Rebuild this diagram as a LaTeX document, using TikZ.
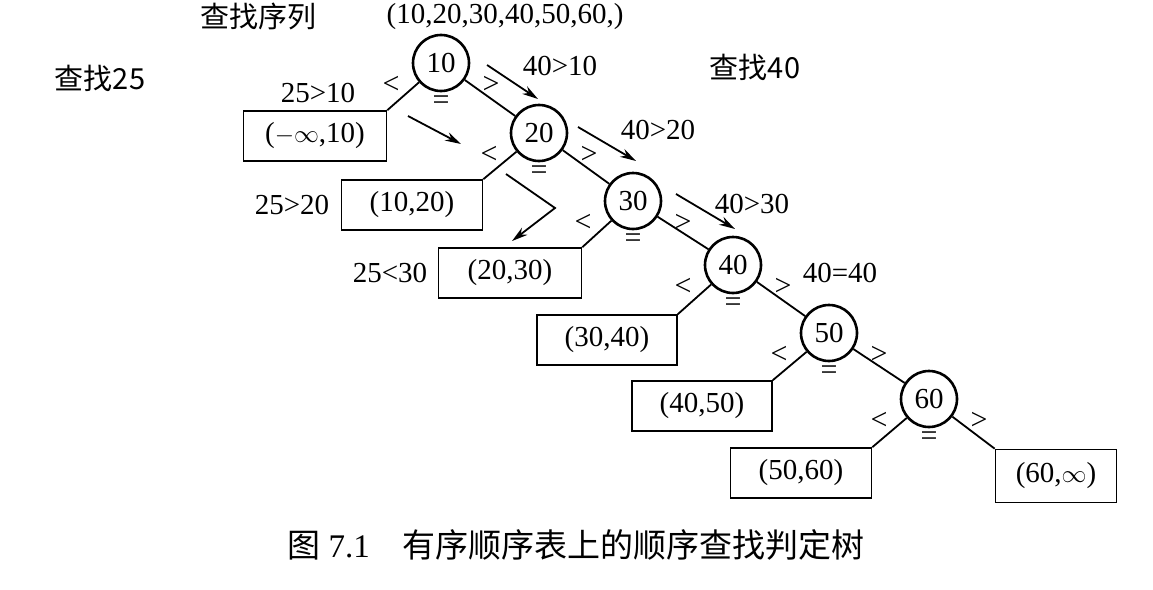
\documentclass[tikz,border=0pt]{standalone}
\usepackage{fontspec}
\usetikzlibrary{arrows.meta}
\setmainfont{Liberation Serif}
\newfontfamily\cjk{Noto Sans CJK SC}
\begin{document}
\begin{tikzpicture}[x=1pt,y=-1pt,
  cnode/.style={circle,draw,line width=2.6pt,minimum size=56pt,inner sep=0pt,font=\fontsize{29}{31}\selectfont},
  bnode/.style={draw,line width=1.6pt,minimum height=50pt,inner sep=0pt,font=\fontsize{29}{31}\selectfont},
  lbl/.style={font=\fontsize{29}{31}\selectfont},
  sym/.style={font=\fontsize{30}{32}\selectfont},
  edge/.style={line width=1.8pt},
  arr/.style={line width=1.8pt,-{Stealth[length=16pt,width=9pt]}}]
\useasboundingbox (0,0) rectangle (1153,589);
\node[cnode] (n10) at (441,63) {10};
\node[cnode] (n20) at (539,133) {20};
\node[cnode] (n30) at (633,201) {30};
\node[cnode] (n40) at (733,265) {40};
\node[cnode] (n50) at (829,333) {50};
\node[cnode] (n60) at (929,399) {60};
\node[bnode,minimum width=143pt] (b0) at (315,136) {($-\infty$,10)};
\node[bnode,minimum width=141pt] (b1) at (412,205) {(10,20)};
\node[bnode,minimum width=143pt] (b2) at (510,273) {(20,30)};
\node[bnode,minimum width=140pt] (b3) at (607,340) {(30,40)};
\node[bnode,minimum width=140pt] (b4) at (702,406) {(40,50)};
\node[bnode,minimum width=141pt] (b5) at (801,473) {(50,60)};
\node[bnode,minimum width=121pt,minimum height=53pt] (b6) at (1056,476) {(60,$\infty$)};
\draw[edge] (n10) -- (b0.north east);
\draw[edge] (n20) -- (b1.north east);
\draw[edge] (n30) -- (b2.north east);
\draw[edge] (n40) -- (b3.north east);
\draw[edge] (n50) -- (b4.north east);
\draw[edge] (n60) -- (b5.north east);
\draw[edge] (n10) -- (n20);
\draw[edge] (n20) -- (n30);
\draw[edge] (n30) -- (n40);
\draw[edge] (n40) -- (n50);
\draw[edge] (n50) -- (n60);
\draw[edge] (n60) -- (b6.north west);
\foreach \n in {n10,n20,n30,n40,n50,n60}{
  \node[sym] (lt\n) at ([shift={(-50,22)}]\n.center) {<};
  \node[sym] (gt\n) at ([shift={(50,22)}]\n.center) {>};
  \node[sym] (eq\n) at ([shift={(0,40)}]\n.center) {=};
}
\coordinate (a1s) at (487,65); \coordinate (a1e) at (538,99);
\coordinate (a2s) at (578,127); \coordinate (a2e) at (636,161);
\coordinate (a3s) at (676,194); \coordinate (a3e) at (735,229);
\draw[arr] (a1s) -- (a1e);
\draw[arr] (a2s) -- (a2e);
\draw[arr] (a3s) -- (a3e);
\coordinate (c1s) at (408,116); \coordinate (c1e) at (461,144);
\coordinate (c2s) at (506,174); \coordinate (c2m) at (555,208); \coordinate (c2e) at (512,241);
\draw[arr] (c1s) -- (c1e);
\draw[arr] (c2s) -- (c2m) -- (c2e);
\node[lbl] (t1) at (258,16) {\cjk 查找序列};
\node[lbl] (t2) at (505,17) {(10,20,30,40,50,60,)};
\node[lbl] (t3) at (100,78) {\cjk 查找25};
\node[lbl] (t4) at (755,67) {\cjk 查找40};
\node[lbl] (k1) at (560,66) {40>10};
\node[lbl] (k2) at (318,93) {25>10};
\node[lbl] (k3) at (658,130) {40>20};
\node[lbl] (k4) at (292,205) {25>20};
\node[lbl] (k5) at (752,204) {40>30};
\node[lbl] (k6) at (390,273) {25<30};
\node[lbl] (k7) at (840,273) {40=40};
\node[font=\fontsize{33}{35}\selectfont] (cap) at (576,545) {{\cjk 图} 7.1\quad{\cjk 有序顺序表上的顺序查找判定树}};
\end{tikzpicture}
\end{document}
